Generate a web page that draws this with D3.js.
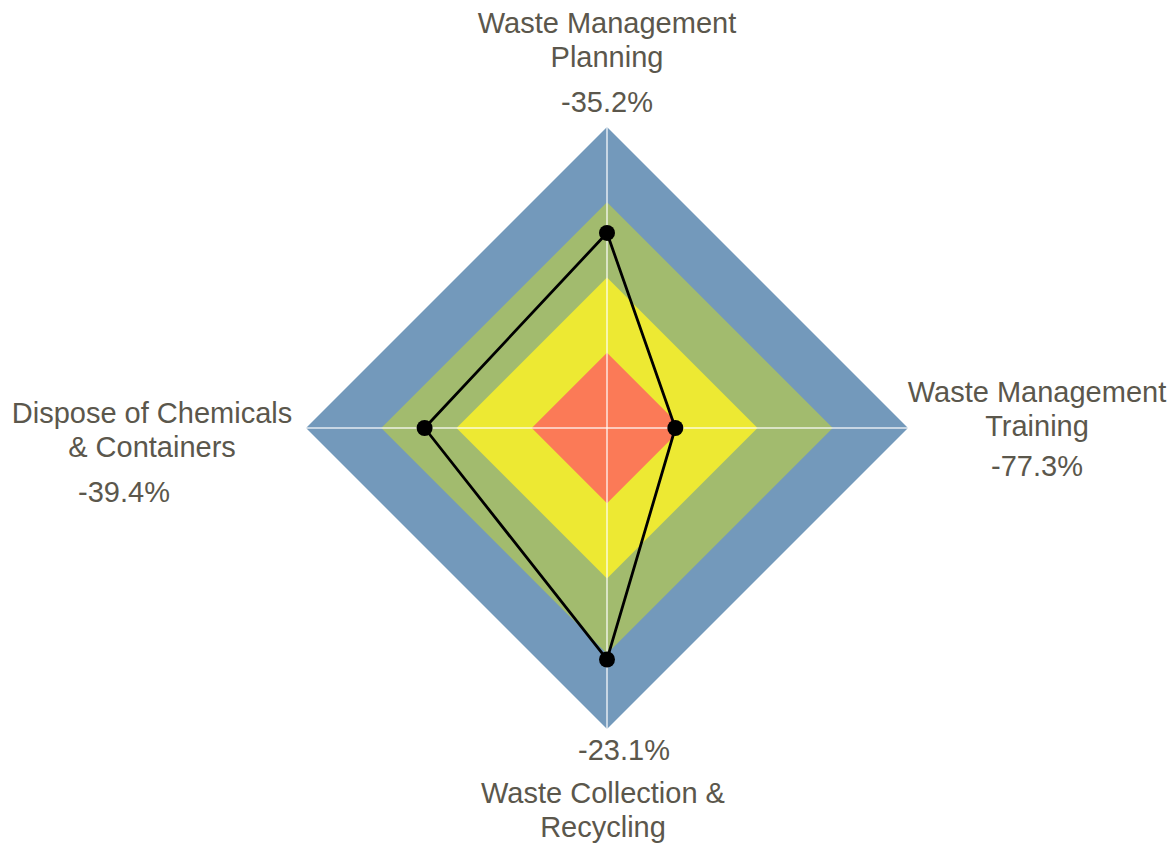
<!DOCTYPE html>
<html>
<head>
<meta charset="utf-8">
<script src="https://cdn.jsdelivr.net/npm/d3@7"></script>
<style>
	body { margin: 0; background: #fff; }
	svg text { font-family: "Liberation Sans", Arial, sans-serif; fill: #5b574c; }
</style>
</head>
<body>
<div id="chartDiv"></div>
<script>
;(function() {

	var width = 1176;
	var height = 843;
	var center = { x: 607, y: 428 };
	var radius = 301;

	// axes, clockwise from the top
	var categories = ["Waste Management Planning", "Waste Management Training", "Waste Collection & Recycling", "Dispose of Chemicals & Containers"];
	var labelLines = [["Waste Management", "Planning"], ["Waste Management", "Training"], ["Waste Collection &", "Recycling"], ["Dispose of Chemicals", "& Containers"]];
	var gapValues = [-35.2, -77.3, -23.1, -39.4];

	// background bands (gap to target)
	var bandLevels = [0, -25, -50, -75];
	var bandColors = ["#7399bb", "#a2bb6e", "#ede933", "#fb7a57"];

	var chart;
	var rScale;

	init();

	function init() {
		chart = d3.select("#chartDiv").append("svg")
			.attr("width", width)
			.attr("height", height);

		chart.plotArea = chart.append("g")
			.attr("transform", "translate(" + center.x + "," + center.y + ")");

		rScale = d3.scaleLinear()
			.domain([-100, 0])
			.range([0, radius]);

		drawBands();
		drawAxes();
		drawSeries();
		drawLabels();
	}

	function angleOf(i) {
		return i * 2 * Math.PI / categories.length;
	}

	function point(i, v) {
		var a = angleOf(i);
		var r = rScale(v);
		return [r * Math.sin(a), -r * Math.cos(a)];
	}

	function drawBands() {
		var line = d3.line();
		chart.plotArea.selectAll(".band")
			.data(bandLevels)
			.enter().append("path")
			.attr("class", "band")
			.attr("d", function(lv) {
				return line(categories.map(function(c, i) { return point(i, lv); })) + "Z";
			})
			.style("fill", function(d, i) { return bandColors[i]; });
	}

	function drawAxes() {
		chart.plotArea.selectAll(".spoke")
			.data(categories)
			.enter().append("line")
			.attr("class", "spoke")
			.attr("x1", 0).attr("y1", 0)
			.attr("x2", function(d, i) { return point(i, 0)[0]; })
			.attr("y2", function(d, i) { return point(i, 0)[1]; })
			.style("stroke", "#ffffff")
			.style("stroke-opacity", 0.6)
			.style("stroke-width", 2);
	}

	function drawSeries() {
		var pts = gapValues.map(function(v, i) { return point(i, v); });

		chart.plotArea.append("path")
			.attr("d", d3.line()(pts) + "Z")
			.style("fill", "none")
			.style("stroke", "#000")
			.style("stroke-width", 2.8)
			.style("stroke-linejoin", "round");

		chart.plotArea.selectAll(".dot")
			.data(pts)
			.enter().append("circle")
			.attr("class", "dot")
			.attr("cx", function(d) { return d[0]; })
			.attr("cy", function(d) { return d[1]; })
			.attr("r", 8)
			.style("fill", "#000");
	}

	function drawLabels() {
		// label block positions relative to the centre: [name x, first line y, value x, value y]
		var spots = [
			[0, -405, 0, -326],
			[430, -36, 430, 38],
			[-4, 365, 17, 322],
			[-455, -15, -483, 64]
		];
		var fontSize = 29;
		var lineH = 34;
		var fmt = d3.format(".1f");

		categories.forEach(function(c, i) {
			var s = spots[i];
			var t = chart.plotArea.append("text")
				.attr("text-anchor", "middle")
				.style("font-size", fontSize + "px");
			labelLines[i].forEach(function(ln, k) {
				t.append("tspan")
					.attr("x", s[0])
					.attr("y", s[1] + k * lineH)
					.attr("dy", "0.35em")
					.text(ln);
			});

			// plain hyphen for the minus sign, as in the original
			chart.plotArea.append("text")
				.attr("text-anchor", "middle")
				.attr("x", s[2])
				.attr("y", s[3])
				.attr("dy", "0.35em")
				.style("font-size", fontSize + "px")
				.text(fmt(gapValues[i]).replace("\u2212", "-") + "%");
		});
	}

})();
</script>
</body>
</html>
